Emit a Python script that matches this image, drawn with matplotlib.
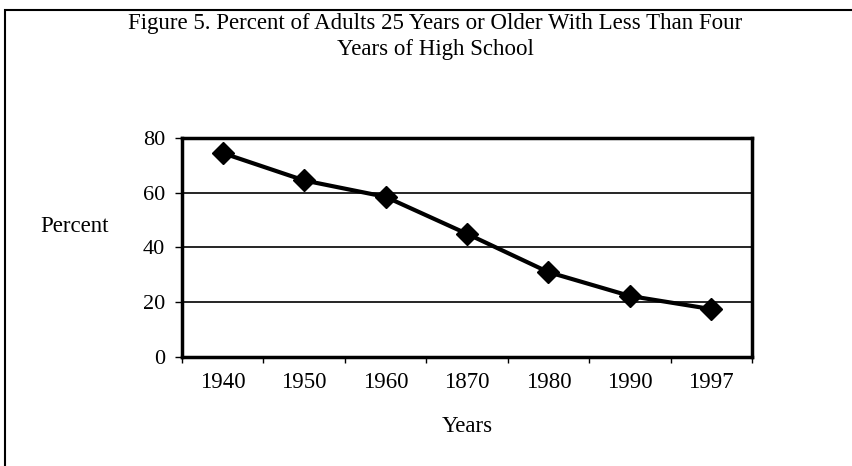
import matplotlib.pyplot as plt
from matplotlib.patches import Rectangle
import numpy as np

plt.rcParams['font.family'] = 'serif'
plt.rcParams['font.serif'] = ['Liberation Serif', 'DejaVu Serif']

# data (the "1870" label is in the original)
years = ['1940', '1950', '1960', '1870', '1980', '1990', '1997']
percent = [74.5, 64.5, 58.5, 45, 31, 22.3, 17.5]
y_ticks = [0, 20, 40, 60, 80]

fig = plt.figure(figsize=(8.52, 4.66), dpi=100)

# outer frame (only the left and top edges show in the original)
fig.patches.append(Rectangle((5 / 852, -0.1), 1.2, (466 - 10) / 466 + 0.1,
                             transform=fig.transFigure, fill=False,
                             edgecolor='black', linewidth=1.5))

ax = fig.add_axes([182 / 852, 1 - 357 / 466, (752 - 182) / 852, (357 - 138) / 466])

x = np.arange(len(years))
ax.plot(x, percent, color='black', linewidth=3, marker='D', markersize=11,
        markerfacecolor='black', markeredgecolor='black', zorder=3)

ax.set_xlim(-0.5, len(years) - 0.5)
ax.set_ylim(0, 80)
ax.set_yticks(y_ticks)
ax.set_yticklabels([str(v) for v in y_ticks], fontsize=16)
for v in y_ticks[1:-1]:
    ax.axhline(v, color='black', linewidth=1.2, zorder=1)

# category labels centred, tick marks between categories
ax.set_xticks(x)
ax.set_xticklabels(years, fontsize=16.5)
ax.tick_params(axis='x', length=0, pad=11)
ax.set_xticks(np.arange(len(years) + 1) - 0.5, minor=True)
ax.tick_params(axis='x', which='minor', length=4, width=1, direction='out')
ax.tick_params(axis='y', length=5, width=1, direction='out', pad=7)

for s in ax.spines.values():
    s.set_linewidth(2.5)

fig.text(435 / 852, 1 - 24 / 466, 'Figure 5. Percent of Adults 25 Years or Older With Less Than Four',
         ha='center', va='center', fontsize=16.5)
fig.text(435 / 852, 1 - 50 / 466, 'Years of High School',
         ha='center', va='center', fontsize=16.5)
fig.text(75 / 852, 1 - 226 / 466, 'Percent', ha='center', va='center', fontsize=16.5)
fig.text(467 / 852, 1 - 426 / 466, 'Years', ha='center', va='center', fontsize=16.5)

fig.savefig('out.png', dpi=100)
